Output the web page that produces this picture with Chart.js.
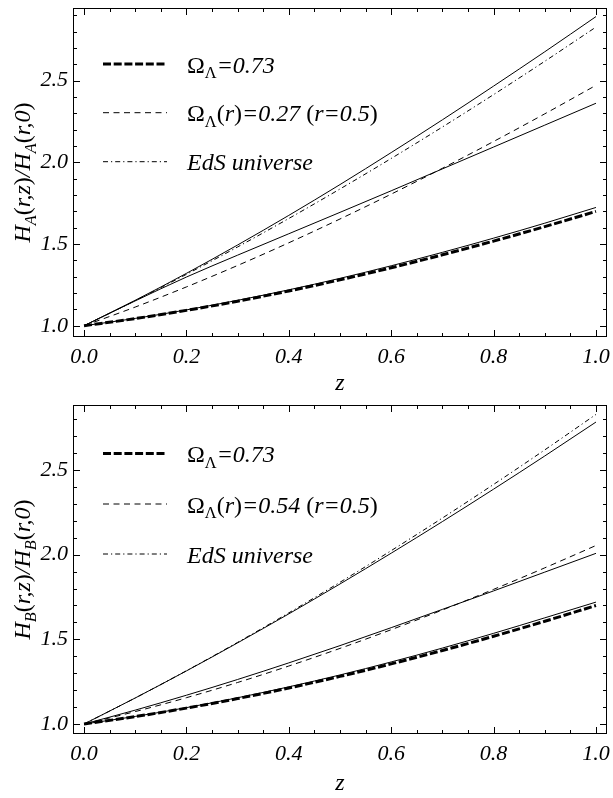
<!DOCTYPE html>
<html>
<head>
<meta charset="utf-8">
<script src="https://cdn.jsdelivr.net/npm/chart.js@4.4.0/dist/chart.umd.min.js"></script>
<style>
  body { margin: 0; background: #fff; }
  canvas { position: absolute; left: 0; }
</style>
</head>
<body>
<canvas id="chartA" width="613" height="400" style="top:0px;width:613px;height:400px"></canvas>
<canvas id="chartB" width="613" height="398" style="top:400px;width:613px;height:398px"></canvas>
<script>
// redshift samples
const zValues = [0, 0.1, 0.2, 0.3, 0.4, 0.5, 0.6, 0.7, 0.8, 0.9, 1.0];
const xTickLabels = [0, 0.2, 0.4, 0.6, 0.8, 1.0];
const yTickLabels = [1.0, 1.5, 2.0, 2.5];

// top panel, H_A
const lcdmA     = [1, 1.0437, 1.0939, 1.1503, 1.2128, 1.2811, 1.3550, 1.4341, 1.5181, 1.6068, 1.7000];
const lowSolidA = [1, 1.0447, 1.0969, 1.1553, 1.2198, 1.2901, 1.3670, 1.4491, 1.5361, 1.6278, 1.7240];
const localA    = [1, 1.1143, 1.2375, 1.3689, 1.5077, 1.6534, 1.8056, 1.9638, 2.1278, 2.2972, 2.4718];
const midSolidA = [1, 1.1520, 1.2980, 1.4320, 1.5630, 1.6940, 1.8260, 1.9600, 2.0940, 2.2280, 2.3620];
const edsA      = [1, 1.1537, 1.3145, 1.4822, 1.6565, 1.8371, 2.0239, 2.2165, 2.4150, 2.6190, 2.8284];
const topSolidA = [1, 1.1557, 1.3205, 1.4942, 1.6755, 1.8641, 2.0599, 2.2605, 2.4670, 2.6770, 2.8924];

// bottom panel, H_B
const lcdmB     = [1, 1.0437, 1.0939, 1.1503, 1.2128, 1.2811, 1.3550, 1.4341, 1.5181, 1.6068, 1.7000];
const lowSolidB = [1, 1.0447, 1.0967, 1.1550, 1.2195, 1.2898, 1.3665, 1.4485, 1.5355, 1.6270, 1.7200];
const localB    = [1, 1.0734, 1.1554, 1.2452, 1.3425, 1.4466, 1.5570, 1.6733, 1.7952, 1.9223, 2.0543];
const midSolidB = [1, 1.0820, 1.1700, 1.2630, 1.3610, 1.4630, 1.5690, 1.6770, 1.7860, 1.8970, 2.0080];
const edsB      = [1, 1.1537, 1.3145, 1.4822, 1.6565, 1.8371, 2.0239, 2.2165, 2.4150, 2.6190, 2.8284];
const topSolidB = [1, 1.1537, 1.3135, 1.4792, 1.6505, 1.8271, 2.0089, 2.1955, 2.3870, 2.5830, 2.7834];

const FONT = '"Liberation Serif", "Times New Roman", serif';
const THICK_DASH = [8, 2.7];
const THIN_DASH = [6, 4.5];
const DOT_DASH = [5, 3, 1.2, 3];

function pts(arr) {
  return zValues.map((z, i) => ({ x: z, y: arr[i] }));
}

function line(arr, width, dash) {
  return {
    data: pts(arr),
    borderColor: '#000',
    borderWidth: width,
    borderDash: dash,
    pointRadius: 0,
    fill: false,
    cubicInterpolationMode: 'monotone',
  };
}

function drawRich(ctx, parts, x, y, size, measureOnly) {
  let cx = x;
  parts.forEach((p) => {
    const fs = p.sub ? size * 0.68 : size;
    ctx.font = (p.up ? '' : 'italic ') + fs + 'px ' + FONT;
    if (!measureOnly) ctx.fillText(p.t, cx, y + (p.sub ? size * 0.24 : 0));
    cx += ctx.measureText(p.t).width;
  });
  return cx - x;
}

// frame with inward ticks, axis titles and the legend
const decorations = {
  id: 'decorations',
  afterDraw(chart, args, opts) {
    const { ctx, chartArea: a } = chart;
    const xs = chart.scales.x;
    const ys = chart.scales.y;
    ctx.save();
    ctx.strokeStyle = '#000';
    ctx.fillStyle = '#000';
    ctx.lineWidth = 1;
    ctx.setLineDash([]);
    ctx.strokeRect(a.left + 0.5, a.top + 0.5, a.right - a.left - 1, a.bottom - a.top - 1);

    ctx.beginPath();
    for (let k = 0; k <= 20; k++) {
      const v = k * 0.05;
      const px = Math.round(xs.getPixelForValue(v)) + 0.5;
      const len = k % 4 === 0 ? 7 : 4;
      ctx.moveTo(px, a.bottom); ctx.lineTo(px, a.bottom - len);
      ctx.moveTo(px, a.top); ctx.lineTo(px, a.top + len);
    }
    for (let k = 10; k <= 29; k++) {
      const v = k * 0.1;
      if (v > ys.max) break;
      const py = Math.round(ys.getPixelForValue(v)) + 0.5;
      const len = k % 5 === 0 ? 7 : 4;
      ctx.moveTo(a.left, py); ctx.lineTo(a.left + len, py);
      ctx.moveTo(a.right, py); ctx.lineTo(a.right - len, py);
    }
    ctx.stroke();

    // x title
    ctx.font = 'italic 24px ' + FONT;
    ctx.textAlign = 'center';
    ctx.textBaseline = 'alphabetic';
    ctx.fillText('z', (a.left + a.right) / 2, opts.zBaseline);

    // y title
    ctx.textAlign = 'left';
    const h = opts.sub;
    const yTitle = [
      { t: 'H' }, { t: h, sub: true }, { t: '(', up: true }, { t: 'r,z' }, { t: ')', up: true }, { t: '/' },
      { t: 'H' }, { t: h, sub: true }, { t: '(', up: true }, { t: 'r,0' }, { t: ')', up: true },
    ];
    const w = drawRich(ctx, yTitle, 0, 0, 24, true);
    ctx.save();
    ctx.translate(22, (a.top + a.bottom) / 2);
    ctx.rotate(-Math.PI / 2);
    drawRich(ctx, yTitle, -w / 2, 8, 24);
    ctx.restore();

    // legend
    const rows = [
      { dash: THICK_DASH, width: 3, parts: [{ t: 'Ω', up: true }, { t: 'Λ', up: true, sub: true }, { t: '=0.73' }] },
      { dash: THIN_DASH, width: 1, parts: [{ t: 'Ω', up: true }, { t: 'Λ', up: true, sub: true }, { t: '(', up: true }, { t: 'r' }, { t: ')', up: true }, { t: '=' + opts.omegaR + ' ' }, { t: '(', up: true }, { t: 'r=0.5' }, { t: ')', up: true }] },
      { dash: DOT_DASH, width: 1, parts: [{ t: 'EdS universe' }] },
    ];
    rows.forEach((r, i) => {
      const ry = opts.legendY[i];
      ctx.beginPath();
      ctx.lineWidth = r.width;
      ctx.setLineDash(r.dash);
      ctx.moveTo(103, ry);
      ctx.lineTo(167, ry);
      ctx.stroke();
      drawRich(ctx, r.parts, 187, ry + 8.5, 24);
    });
    ctx.restore();
  },
};

function makePanel(id, series, cfg) {
  return new Chart(document.getElementById(id), {
    type: 'line',
    data: {
      datasets: [
        line(series[0], 3, THICK_DASH),
        line(series[1], 1, []),
        line(series[2], 1, THIN_DASH),
        line(series[3], 1, []),
        line(series[4], 1, DOT_DASH),
        line(series[5], 1, []),
      ],
    },
    options: {
      responsive: false,
      animation: false,
      devicePixelRatio: 1,
      layout: { padding: { top: cfg.top, right: 6, left: 0, bottom: 0 } },
      plugins: {
        legend: { display: false },
        tooltip: { enabled: false },
        decorations: cfg,
      },
      scales: {
        x: {
          type: 'linear',
          min: -0.0215,
          max: 1.0215,
          grid: { display: false, drawTicks: false },
          border: { display: false },
          afterBuildTicks: (scale) => { scale.ticks = xTickLabels.map((v) => ({ value: v })); },
          afterFit: (scale) => {
            scale.height = cfg.xHeight;
            scale.paddingLeft = 0;
            scale.paddingRight = 0;
          },
          ticks: {
            padding: 7,
            color: '#000',
            font: { family: FONT, size: 22, style: 'italic' },
            callback: (v) => Number(v).toFixed(1),
          },
        },
        y: {
          type: 'linear',
          min: cfg.yMin,
          max: cfg.yMax,
          grid: { display: false, drawTicks: false },
          border: { display: false },
          afterBuildTicks: (scale) => { scale.ticks = yTickLabels.map((v) => ({ value: v })); },
          afterFit: (scale) => {
            scale.width = 73;
            scale.paddingTop = 0;
            scale.paddingBottom = 0;
          },
          ticks: {
            padding: 5,
            color: '#000',
            font: { family: FONT, size: 22, style: 'italic' },
            callback: (v) => Number(v).toFixed(1),
          },
        },
      },
    },
    plugins: [decorations],
  });
}

makePanel('chartA', [lcdmA, lowSolidA, localA, midSolidA, edsA, topSolidA], {
  top: 8, xHeight: 63, yMin: 0.931, yMax: 2.945,
  sub: 'A', omegaR: '0.27', legendY: [64, 112.7, 161.7], zBaseline: 390,
});
makePanel('chartB', [lcdmB, lowSolidB, localB, midSolidB, edsB, topSolidB], {
  top: 5, xHeight: 64, yMin: 0.941, yMax: 2.884,
  sub: 'B', omegaR: '0.54', legendY: [53.5, 104, 154], zBaseline: 390,
});
</script>
</body>
</html>
